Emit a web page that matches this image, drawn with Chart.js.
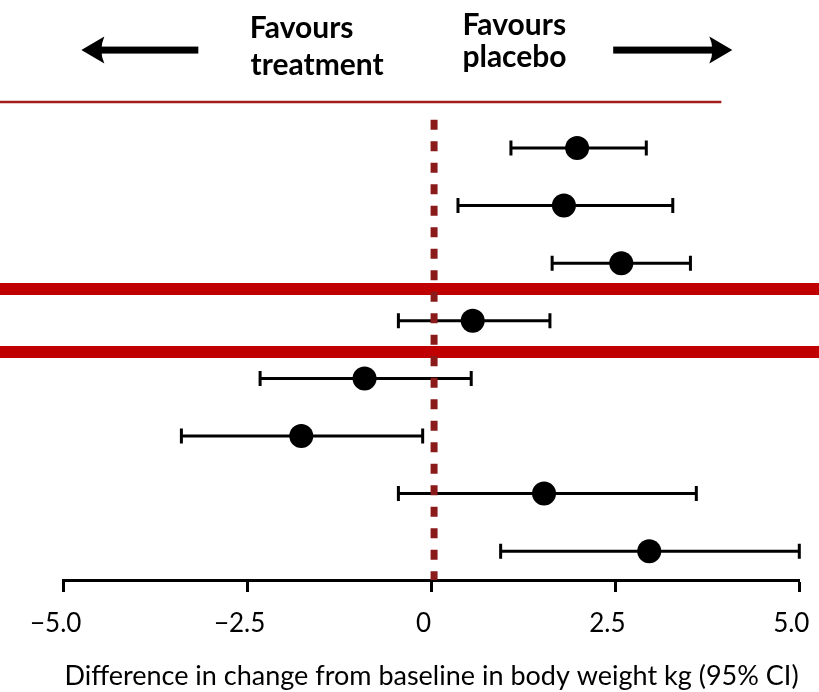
<!DOCTYPE html>
<html>
<head>
<meta charset="utf-8">
<script src="https://cdn.jsdelivr.net/npm/chart.js@4/dist/chart.umd.min.js"></script>
<style>
	html, body { margin: 0; padding: 0; background: #fff; }
	canvas { display: block; }
</style>
</head>
<body>
<canvas id="forest" width="819" height="692"></canvas>
<script>
// rows from top (1) to bottom (8)
const rows = [1, 2, 3, 4, 5, 6, 7, 8];
const estimates = [1.98, 1.80, 2.58, 0.56, -0.91, -1.77, 1.53, 2.96];
const lowerCI = [1.08, 0.36, 1.64, -0.45, -2.33, -3.40, -0.45, 0.94];
const upperCI = [2.92, 3.28, 3.52, 1.61, 0.54, -0.12, 3.60, 5.00];
const xTicks = [-5, -2.5, 0, 2.5, 5];

// reference line and separators, in axis units
const nullLineX = 0.035;
const nullLineRows = [0.51, 8.5];
const separatorRows = [3.45, 4.54];
const headerRuleRow = 0.2;
const headerRuleEnd = 3.94;

// header labels / arrows, in axis units
const headerLabels = [
	{ x: -2.47, y: -0.91, text: 'Favours' },
	{ x: -2.46, y: -0.27, text: 'treatment' },
	{ x: 0.42, y: -0.96, text: 'Favours' },
	{ x: 0.42, y: -0.41, text: 'placebo' }
];
const headerArrows = [
	{ from: -3.17, to: -4.76, y: -0.70 },
	{ from: 2.47, to: 4.09, y: -0.70 }
];

const fmtTick = (v) => {
	if (v === 0) return '0';
	return v.toFixed(1).replace('-', '\u2212');
};

// separators + error bars, under the datasets
const underlayPlugin = {
	id: 'underlay',
	beforeDatasetsDraw(chart) {
		const ctx = chart.ctx;
		const xs = chart.scales.x, ys = chart.scales.y;
		ctx.save();
		// thin header rule
		ctx.strokeStyle = '#a51c1c';
		ctx.lineWidth = 2.5;
		ctx.beginPath();
		ctx.moveTo(0, ys.getPixelForValue(headerRuleRow));
		ctx.lineTo(xs.getPixelForValue(headerRuleEnd), ys.getPixelForValue(headerRuleRow));
		ctx.stroke();
		// thick separators
		ctx.strokeStyle = '#c00000';
		ctx.lineWidth = 12;
		separatorRows.forEach((r) => {
			const py = ys.getPixelForValue(r);
			ctx.beginPath();
			ctx.moveTo(0, py);
			ctx.lineTo(chart.width, py);
			ctx.stroke();
		});
		// confidence intervals
		ctx.strokeStyle = '#000';
		ctx.lineWidth = 3;
		rows.forEach((r, i) => {
			const py = ys.getPixelForValue(r);
			const x0 = xs.getPixelForValue(lowerCI[i]);
			const x1 = xs.getPixelForValue(upperCI[i]);
			ctx.beginPath();
			ctx.moveTo(x0, py);
			ctx.lineTo(x1, py);
			ctx.moveTo(x0, py - 7.5);
			ctx.lineTo(x0, py + 7.5);
			ctx.moveTo(x1, py - 7.5);
			ctx.lineTo(x1, py + 7.5);
			ctx.stroke();
		});
		ctx.restore();
	}
};

// header text and arrows
const headerPlugin = {
	id: 'header',
	afterDraw(chart) {
		const ctx = chart.ctx;
		const xs = chart.scales.x, ys = chart.scales.y;
		ctx.save();
		ctx.fillStyle = '#000';
		ctx.font = 'bold 30px Lato';
		ctx.textAlign = 'left';
		ctx.textBaseline = 'alphabetic';
		headerLabels.forEach((l) => {
			ctx.fillText(l.text, xs.getPixelForValue(l.x), ys.getPixelForValue(l.y));
		});
		headerArrows.forEach((a) => {
			const x0 = xs.getPixelForValue(a.from);
			const x1 = xs.getPixelForValue(a.to);
			const py = ys.getPixelForValue(a.y);
			const dir = x1 > x0 ? 1 : -1;
			const headLen = 23, headHalf = 13.5, notch = 6;
			ctx.fillRect(Math.min(x0, x1 - dir * headLen + dir * notch), py - 3.5,
				Math.abs(x1 - x0) - headLen + notch, 7);
			ctx.beginPath();
			ctx.moveTo(x1, py);
			ctx.lineTo(x1 - dir * headLen, py - headHalf);
			ctx.quadraticCurveTo(x1 - dir * (headLen - notch), py, x1 - dir * headLen, py + headHalf);
			ctx.closePath();
			ctx.fill();
		});
		ctx.restore();
	}
};

new Chart(document.getElementById('forest'), {
	type: 'scatter',
	data: {
		datasets: [
			{
				// null effect line, drawn on top
				type: 'line',
				data: nullLineRows.map((r) => ({ x: nullLineX, y: r })),
				borderColor: '#8b1a1a',
				borderWidth: 7,
				borderDash: [10, 11.5],
				pointRadius: 0,
				fill: false
			},
			{
				data: rows.map((r, i) => ({ x: estimates[i], y: r })),
				pointRadius: 12,
				pointHoverRadius: 12,
				pointBackgroundColor: '#000',
				pointBorderWidth: 0,
				showLine: false
			}
		]
	},
	options: {
		responsive: false,
		animation: false,
		events: [],
		layout: {
			padding: { top: 90.4, left: 63.7, right: 19.7, bottom: 0 }
		},
		scales: {
			x: {
				type: 'linear',
				min: -5,
				max: 5,
				afterFit: (scale) => {
					scale.height = 112;
					scale.paddingLeft = 0;
					scale.paddingRight = 0;
				},
				afterBuildTicks: (scale) => { scale.ticks = xTicks.map((v) => ({ value: v })); },
				ticks: {
					callback: fmtTick,
					color: '#000',
					font: { family: 'Lato', size: 26 },
					padding: 16,
					labelOffset: -8,
					maxRotation: 0,
					autoSkip: false
				},
				grid: {
					display: true,
					drawOnChartArea: false,
					drawTicks: true,
					tickLength: 12,
					tickWidth: 3,
					tickColor: '#000'
				},
				border: { display: true, color: '#000', width: 3 },
				title: {
					display: true,
					text: 'Difference in change from baseline in body weight kg (95% CI)',
					color: '#000',
					font: { family: 'Lato', size: 27, lineHeight: 1.2 },
					padding: { top: 0, bottom: 0 }
				}
			},
			y: {
				type: 'linear',
				display: false,
				reverse: true,
				min: 0,
				max: 8.5
			}
		},
		plugins: {
			legend: { display: false },
			tooltip: { enabled: false },
			title: { display: false }
		}
	},
	plugins: [underlayPlugin, headerPlugin]
});
</script>
</body>
</html>
